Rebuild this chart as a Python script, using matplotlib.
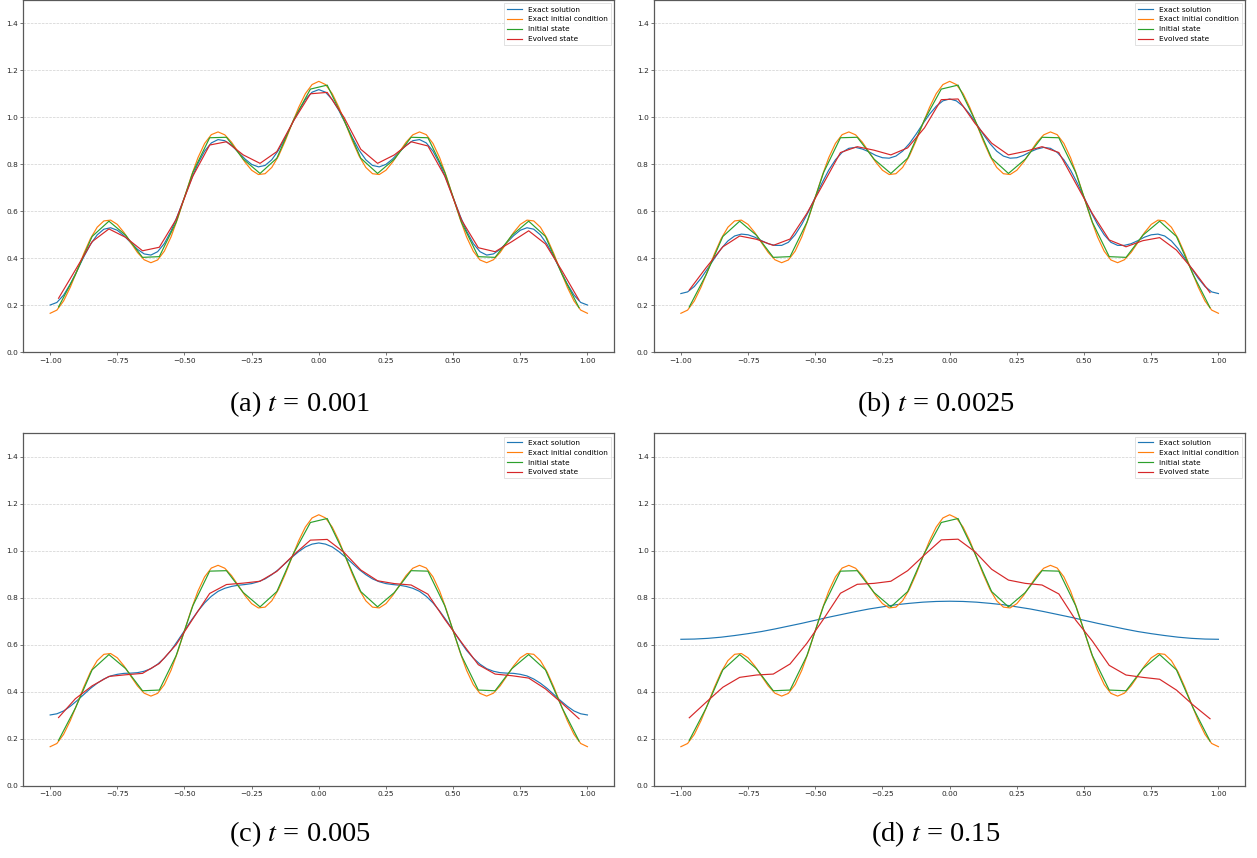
import numpy as np
import matplotlib
matplotlib.use("Agg")
import matplotlib.pyplot as plt

plt.rcParams["mathtext.fontset"] = "stix"

# ---------------- data ----------------
x_fine = np.linspace(-1, 1, 81)
x_smooth_d = np.linspace(-1, 1, 41)
x_nodes = np.linspace(-0.96875, 0.96875, 32)

exact_initial = [
    0.1660, 0.1796, 0.2184, 0.2771, 0.3473, 0.4194, 0.4838, 0.5322, 0.5591, 0.5625,
    0.5442, 0.5095, 0.4665, 0.4247, 0.3937, 0.3813, 0.3929, 0.4302, 0.4913, 0.5705,
    0.6595, 0.7485, 0.8277, 0.8888, 0.9262, 0.9378, 0.9254, 0.8943, 0.8525, 0.8095,
    0.7748, 0.7565, 0.7599, 0.7868, 0.8352, 0.8996, 0.9717, 1.0420, 1.1006, 1.1394,
    1.1530,
    1.1394, 1.1006, 1.0420, 0.9717, 0.8996, 0.8352, 0.7868, 0.7599, 0.7565, 0.7748,
    0.8095, 0.8525, 0.8943, 0.9254, 0.9378, 0.9262, 0.8888, 0.8277, 0.7485, 0.6595,
    0.5705, 0.4913, 0.4302, 0.3929, 0.3813, 0.3937, 0.4247, 0.4665, 0.5095, 0.5442,
    0.5625, 0.5591, 0.5322, 0.4838, 0.4194, 0.3473, 0.2771, 0.2184, 0.1796, 0.1660,
]

exact_a = [
    0.2012, 0.2121, 0.2433, 0.2905, 0.3473, 0.4060, 0.4589, 0.4997, 0.5239, 0.5300,
    0.5193, 0.4961, 0.4665, 0.4382, 0.4186, 0.4138, 0.4281, 0.4628, 0.5162, 0.5839,
    0.6595, 0.7351, 0.8028, 0.8562, 0.8910, 0.9052, 0.9004, 0.8808, 0.8525, 0.8229,
    0.7997, 0.7890, 0.7951, 0.8193, 0.8601, 0.9130, 0.9717, 1.0285, 1.0757, 1.1069,
    1.1178,
    1.1069, 1.0757, 1.0285, 0.9717, 0.9130, 0.8601, 0.8193, 0.7951, 0.7890, 0.7997,
    0.8229, 0.8525, 0.8808, 0.9004, 0.9052, 0.8910, 0.8562, 0.8028, 0.7351, 0.6595,
    0.5839, 0.5162, 0.4628, 0.4281, 0.4138, 0.4186, 0.4382, 0.4665, 0.4961, 0.5193,
    0.5300, 0.5239, 0.4997, 0.4589, 0.4060, 0.3473, 0.2905, 0.2433, 0.2121, 0.2012,
]

exact_b = [
    0.250, 0.257, 0.280, 0.315, 0.357, 0.400, 0.441, 0.474, 0.495, 0.503,
    0.500, 0.490, 0.475, 0.462, 0.455, 0.455, 0.468, 0.500, 0.545, 0.599,
    0.660, 0.720, 0.775, 0.819, 0.851, 0.868, 0.872, 0.865, 0.853, 0.838,
    0.828, 0.826, 0.835, 0.856, 0.888, 0.928, 0.972, 1.013, 1.047, 1.070,
    1.078,
    1.070, 1.047, 1.013, 0.972, 0.928, 0.888, 0.856, 0.835, 0.826, 0.828,
    0.838, 0.853, 0.865, 0.872, 0.868, 0.851, 0.819, 0.775, 0.720, 0.660,
    0.599, 0.545, 0.500, 0.468, 0.455, 0.455, 0.462, 0.475, 0.490, 0.500,
    0.503, 0.495, 0.474, 0.441, 0.400, 0.357, 0.315, 0.280, 0.257, 0.250,
]

exact_c = [
    0.301, 0.306, 0.318, 0.338, 0.362, 0.388, 0.414, 0.436, 0.454, 0.467,
    0.474, 0.478, 0.479, 0.481, 0.487, 0.498, 0.517, 0.543, 0.576, 0.617,
    0.660, 0.703, 0.743, 0.778, 0.806, 0.827, 0.840, 0.848, 0.853, 0.856,
    0.860, 0.868, 0.880, 0.898, 0.920, 0.946, 0.972, 0.996, 1.016, 1.028,
    1.033,
    1.028, 1.016, 0.996, 0.972, 0.946, 0.920, 0.898, 0.880, 0.868, 0.860,
    0.856, 0.853, 0.848, 0.840, 0.827, 0.806, 0.778, 0.743, 0.703, 0.660,
    0.617, 0.576, 0.543, 0.517, 0.498, 0.487, 0.481, 0.479, 0.478, 0.474,
    0.467, 0.454, 0.436, 0.414, 0.388, 0.362, 0.338, 0.318, 0.306, 0.301,
]

exact_d = [
    0.623, 0.624, 0.627, 0.632, 0.639, 0.647, 0.656, 0.667, 0.679, 0.691,
    0.704, 0.717, 0.729, 0.741, 0.752, 0.761, 0.770, 0.776, 0.781, 0.784,
    0.785,
    0.784, 0.781, 0.776, 0.770, 0.761, 0.752, 0.741, 0.729, 0.717, 0.704,
    0.691, 0.679, 0.667, 0.656, 0.647, 0.639, 0.632, 0.627, 0.624, 0.623,
]

initial_state = [
    0.193, 0.330, 0.493, 0.558, 0.498, 0.404, 0.407, 0.553, 0.766, 0.913,
    0.915, 0.822, 0.761, 0.826, 0.989, 1.120, 1.137, 0.989, 0.826, 0.761,
    0.822, 0.915, 0.913, 0.766, 0.553, 0.407, 0.404, 0.498, 0.558, 0.493,
    0.330, 0.190,
]

evolved_a = [
    0.230, 0.350, 0.471, 0.525, 0.489, 0.432, 0.447, 0.565, 0.750, 0.882,
    0.896, 0.840, 0.804, 0.854, 0.985, 1.100, 1.106, 1.000, 0.864, 0.804,
    0.840, 0.896, 0.878, 0.750, 0.563, 0.445, 0.428, 0.471, 0.517, 0.461,
    0.345, 0.222,
]

evolved_b = [
    0.265, 0.360, 0.449, 0.495, 0.481, 0.455, 0.482, 0.591, 0.720, 0.850,
    0.875, 0.860, 0.840, 0.870, 0.955, 1.075, 1.078, 0.975, 0.890, 0.840,
    0.855, 0.875, 0.850, 0.720, 0.590, 0.478, 0.449, 0.475, 0.488, 0.435,
    0.350, 0.254,
]

evolved_c = [
    0.290, 0.370, 0.425, 0.465, 0.472, 0.478, 0.520, 0.600, 0.710, 0.818,
    0.856, 0.862, 0.870, 0.912, 0.982, 1.045, 1.048, 0.993, 0.918, 0.872,
    0.860, 0.854, 0.815, 0.708, 0.610, 0.515, 0.475, 0.468, 0.458, 0.412,
    0.350, 0.285,
]

evolved_d = [
    0.289, 0.355, 0.419, 0.461, 0.471, 0.475, 0.518, 0.606, 0.710, 0.819,
    0.857, 0.861, 0.870, 0.915, 0.982, 1.046, 1.049, 0.996, 0.921, 0.875,
    0.861, 0.854, 0.816, 0.705, 0.615, 0.512, 0.471, 0.461, 0.453, 0.407,
    0.343, 0.285,
]

panels = [
    ("(a) ", "0.001", x_fine, exact_a, evolved_a),
    ("(b) ", "0.0025", x_fine, exact_b, evolved_b),
    ("(c) ", "0.005", x_fine, exact_c, evolved_c),
    ("(d) ", "0.15", x_smooth_d, exact_d, evolved_d),
]

xticks = [-1.0, -0.75, -0.5, -0.25, 0.0, 0.25, 0.5, 0.75, 1.0]
yticks = [0.0, 0.2, 0.4, 0.6, 0.8, 1.0, 1.2, 1.4]
labels = ["Exact solution", "Exact initial condition", "Initial state", "Evolved state"]
colors = ["#1f77b4", "#ff7f0e", "#2ca02c", "#d62728"]

# ---------------- figure ----------------
W, H = 1257, 858
fig = plt.figure(figsize=(W / 100, H / 100), dpi=100)

ax_px = [  # left, top, right, bottom in pixels
    (23.3, -0.2, 614.3, 352.3),
    (654.0, -0.2, 1245.3, 352.3),
    (23.3, 433.2, 614.3, 785.7),
    (654.0, 433.2, 1245.3, 785.7),
]
cap_pos = [(300, 404), (936, 404), (300, 834), (936, 834)]

fs = 5.3
for (l, t, r, b), (tag, tval, xs, ex, ev), (cx, cy) in zip(ax_px, panels, cap_pos):
    ax = fig.add_axes([l / W, 1 - b / H, (r - l) / W, (b - t) / H])
    ax.plot(xs, ex, color=colors[0], lw=0.85, label=labels[0])
    ax.plot(x_fine, exact_initial, color=colors[1], lw=0.85, label=labels[1])
    ax.plot(x_nodes, initial_state, color=colors[2], lw=0.85, label=labels[2])
    ax.plot(x_nodes, ev, color=colors[3], lw=0.85, label=labels[3])
    ax.set_xlim(-1.1, 1.1)
    ax.set_ylim(0, 1.5)
    ax.set_xticks(xticks)
    ax.set_xticklabels([f"{v:.2f}".replace("-", "\u2212") for v in xticks])
    ax.set_yticks(yticks)
    ax.set_yticklabels([f"{v:.1f}" for v in yticks])
    ax.tick_params(labelsize=fs, length=2, width=0.5, pad=1.8, colors="0.25",
                   labelcolor="0.15")
    ax.grid(axis="y", ls="--", lw=0.5, color="0.82")
    ax.set_axisbelow(True)
    for s in ax.spines.values():
        s.set_color("0.35")
        s.set_linewidth(0.9)
    leg = ax.legend(loc="upper right", fontsize=fs, handlelength=2.0,
                    borderaxespad=0.5, fancybox=False, framealpha=0.8)
    leg.get_frame().set_linewidth(0.5)
    leg.get_frame().set_edgecolor("0.8")
    fig.text(cx / W, 1 - cy / H, tag + r"$t$ = " + tval, ha="center", va="center",
             fontsize=20.5, family="Liberation Serif")

fig.savefig("out.png", dpi=100)
